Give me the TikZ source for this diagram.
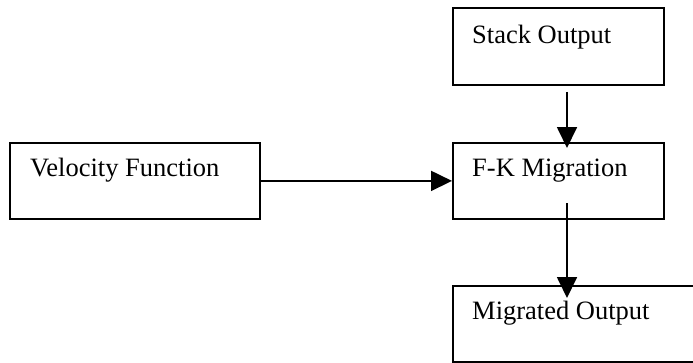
\documentclass[tikz,border=0pt]{standalone}
\usepackage{fontspec}
\setmainfont{Liberation Serif}
\usetikzlibrary{arrows.meta,calc}
\begin{document}
\begin{tikzpicture}[x=1pt,y=-1pt,
  box/.style={draw=black, line width=1.8pt, fill=none, inner sep=0pt, anchor=north west},
  lbl/.style={inner sep=0pt, anchor=base west, font=\fontsize{26.5}{30}\selectfont},
  conn/.style={draw=black, line width=1.8pt, -{Triangle[length=21pt,width=20pt]}}]
\useasboundingbox (0,0) rectangle (693,362);
% boxes
\node[box, minimum width=250pt, minimum height=76pt] (vel) at (9,142) {};
\node[box, minimum width=211pt, minimum height=77pt] (stack) at (452,7) {};
\node[box, minimum width=211pt, minimum height=76pt] (fk) at (452,142) {};
\node[box, minimum width=260pt, minimum height=76pt] (mig) at (452,285) {};
% labels
\node[lbl] (tvel) at ($(vel.north west)+(21,34)$) {Velocity Function};
\node[lbl] (tstack) at ($(stack.north west)+(20,36)$) {Stack Output};
\node[lbl] (tfk) at ($(fk.north west)+(20,34)$) {F-K Migration};
\node[lbl] (tmig) at ($(mig.north west)+(20,34)$) {Migrated Output};
% connector end points
\coordinate (s1) at ($(stack.south west)+(115,6)$);
\coordinate (e1) at ($(fk.north west)+(115,6)$);
\coordinate (s2) at ($(fk.north west)+(115,61)$);
\coordinate (e2) at ($(mig.north west)+(115,13)$);
% connectors
\draw[conn] (vel.east) -- (fk.west);
\draw[conn] (s1) -- (e1);
\draw[conn] (s2) -- (e2);
\end{tikzpicture}
\end{document}
